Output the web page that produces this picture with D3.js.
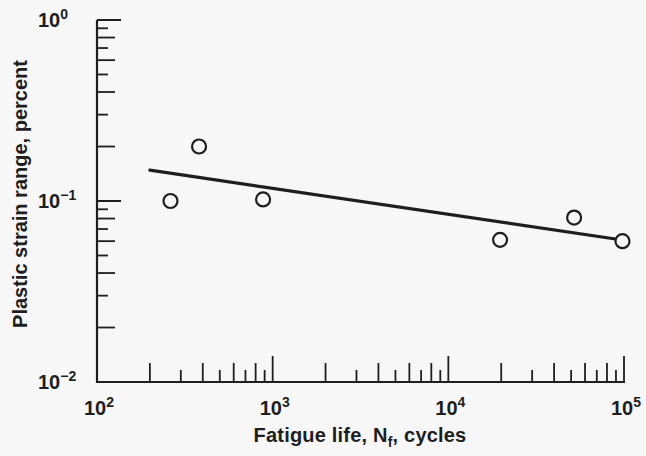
<!DOCTYPE html>
<html>
<head>
<meta charset="utf-8">
<script src="https://cdn.jsdelivr.net/npm/d3@7/dist/d3.min.js"></script>
<style>
  html, body { margin: 0; padding: 0; background: #f7f7f7; }
  svg { display: block; }
  text { font-family: "Liberation Sans", Arial, Helvetica, sans-serif; fill: #1e1e1e; }
</style>
</head>
<body>
<script>
// ---- data ----
const cyclesToFailure = [262, 381, 882, 19700, 52000, 98000];
const plasticStrainRange = [0.1, 0.2, 0.102, 0.061, 0.081, 0.06];
const fitLineCycles = [200, 100000];
const fitLineStrain = [0.148, 0.0607];
const xMajorTicks = [100, 1000, 10000, 100000];
const xMajorExponents = ["2", "3", "4", "5"];
const yMajorTicks = [0.01, 0.1, 1];
const yMajorExponents = ["\u22122", "\u22121", "0"];
const minorMultipliers = [2, 3, 4, 5, 6, 7, 8, 9];

const W = 646, H = 456;
const svg = d3.select("body").append("svg").attr("width", W).attr("height", H);

const x = d3.scaleLog().domain([100, 100000]).range([97, 624]);
const y = d3.scaleLog().domain([0.01, 1]).range([382, 20]);

const ink = "#1e1e1e";

// minor tick value lists built from decades
const xMinor = [];
[100, 1000, 10000].forEach(d => minorMultipliers.forEach(m => xMinor.push({v: d * m, m})));
const yMinor = [];
[0.01, 0.1].forEach(d => minorMultipliers.forEach(m => yMinor.push({v: d * m, m})));

const tickLen = m => (m % 2 === 0 ? 19 : 12);

// axes lines
svg.append("line").attr("x1", x(100)).attr("x2", x(100)).attr("y1", y(1)).attr("y2", y(0.01))
  .attr("stroke", ink).attr("stroke-width", 2.2);
svg.append("line").attr("x1", x(100) - 1).attr("x2", x(100000) + 1).attr("y1", y(0.01)).attr("y2", y(0.01))
  .attr("stroke", ink).attr("stroke-width", 2.2);

// x ticks (inward, upward)
svg.append("g").selectAll("line").data(xMinor).join("line")
  .attr("x1", d => x(d.v)).attr("x2", d => x(d.v))
  .attr("y1", y(0.01)).attr("y2", d => y(0.01) - tickLen(d.m))
  .attr("stroke", ink).attr("stroke-width", 1.8);
svg.append("g").selectAll("line").data(xMajorTicks.slice(1)).join("line")
  .attr("x1", d => x(d)).attr("x2", d => x(d))
  .attr("y1", y(0.01)).attr("y2", y(0.01) - 26)
  .attr("stroke", ink).attr("stroke-width", 1.8);

// y ticks (inward, rightward)
svg.append("g").selectAll("line").data(yMinor).join("line")
  .attr("x1", x(100)).attr("x2", d => x(100) + (d.m % 2 === 0 ? 18 : 11))
  .attr("y1", d => y(d.v)).attr("y2", d => y(d.v))
  .attr("stroke", ink).attr("stroke-width", 1.8);
svg.append("g").selectAll("line").data(yMajorTicks.slice(1)).join("line")
  .attr("x1", x(100)).attr("x2", x(100) + 24)
  .attr("y1", d => y(d)).attr("y2", d => y(d))
  .attr("stroke", ink).attr("stroke-width", 2);

// x tick labels
const xl = svg.append("g").selectAll("text").data(xMajorTicks).join("text")
  .attr("x", d => x(d) + 2).attr("y", 415)
  .attr("text-anchor", "middle")
  .style("font-size", "20px").style("font-weight", "bold");
xl.append("tspan").text("10");
xl.append("tspan").text((d, i) => xMajorExponents[i])
  .attr("dy", -8).style("font-size", "14px");

// y tick labels (left aligned)
const yl = svg.append("g").selectAll("text").data(yMajorTicks).join("text")
  .attr("x", 38).attr("y", d => y(d) + 7)
  .attr("text-anchor", "start")
  .style("font-size", "20px").style("font-weight", "bold");
yl.append("tspan").text("10");
yl.append("tspan").text((d, i) => yMajorExponents[i])
  .attr("dy", -8).style("font-size", "14px");

// axis titles
const xt = svg.append("text").attr("x", 360).attr("y", 442)
  .attr("text-anchor", "middle")
  .style("font-size", "20px").style("font-weight", "bold").style("letter-spacing", "0.2px");
xt.append("tspan").text("Fatigue life, N");
xt.append("tspan").text("f").attr("dy", 5).style("font-size", "14px");
xt.append("tspan").text(", cycles").attr("dy", -5);

svg.append("text")
  .attr("transform", "translate(27,194) rotate(-90)")
  .attr("text-anchor", "middle")
  .style("font-size", "20px").style("font-weight", "bold")
  .text("Plastic strain range, percent");

// fit line
svg.append("path")
  .datum(fitLineCycles.map((c, i) => [c, fitLineStrain[i]]))
  .attr("d", d3.line().x(d => x(d[0])).y(d => y(d[1])))
  .attr("fill", "none").attr("stroke", ink).attr("stroke-width", 3.2)
  .attr("stroke-linecap", "round");

// data points
svg.append("g").selectAll("circle")
  .data(cyclesToFailure.map((c, i) => [c, plasticStrainRange[i]]))
  .join("circle")
  .attr("cx", d => x(d[0])).attr("cy", d => y(d[1])).attr("r", 7)
  .attr("fill", "#f7f7f7").attr("stroke", ink).attr("stroke-width", 2.2);
</script>
</body>
</html>
